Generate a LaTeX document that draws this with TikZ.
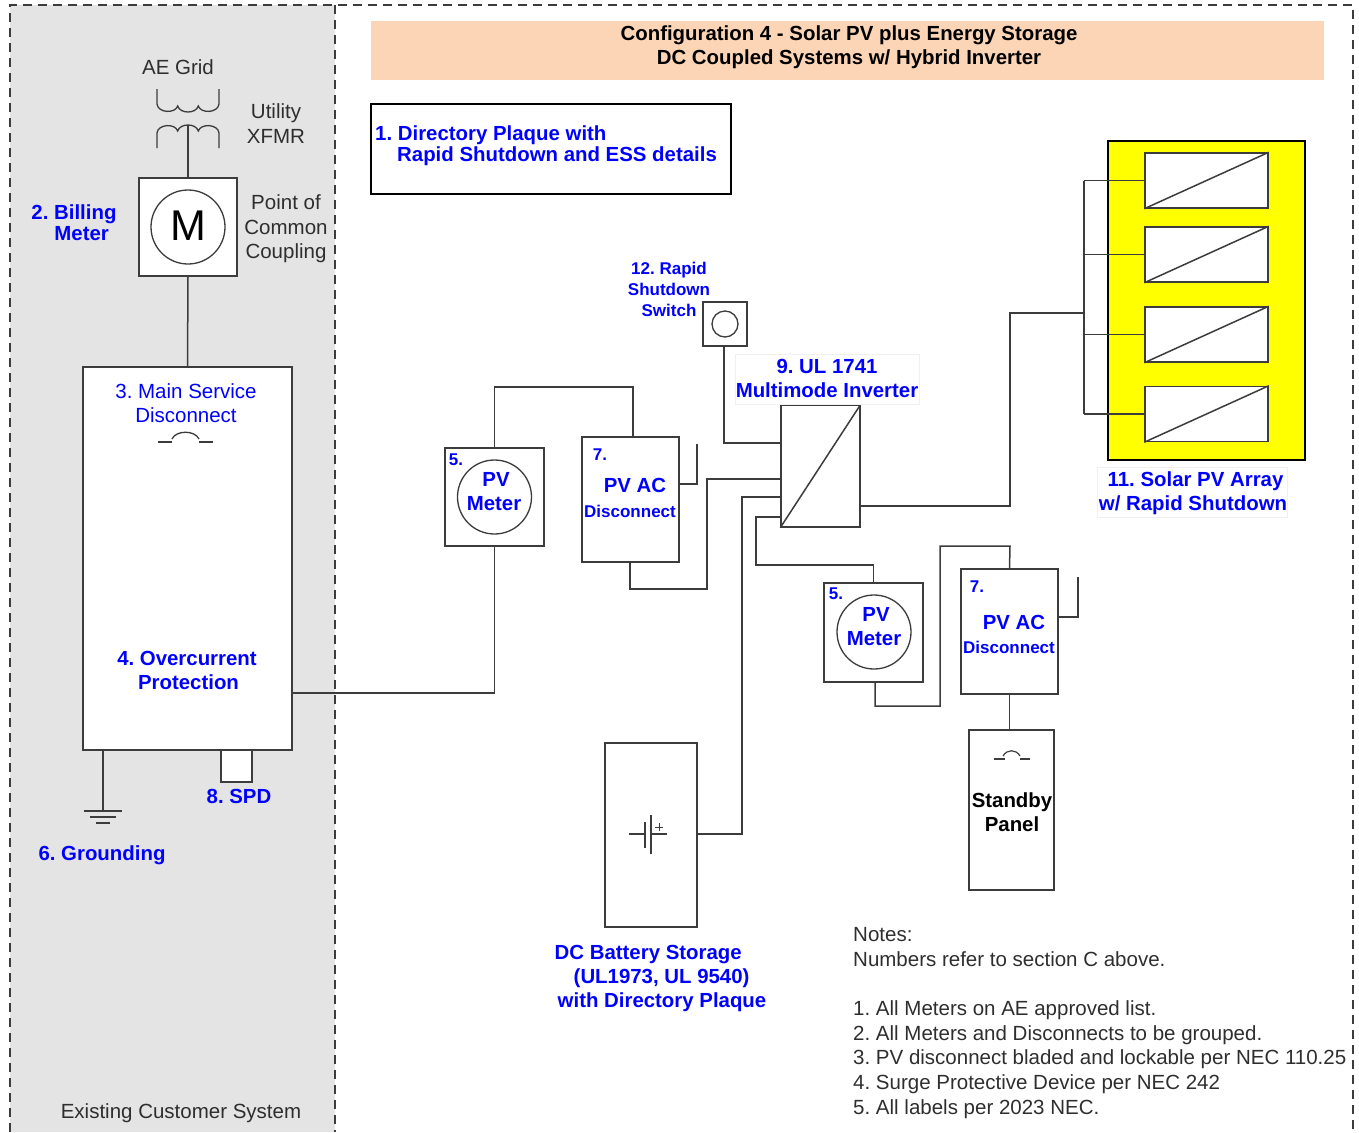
\documentclass[tikz,border=0pt]{standalone}
\usepackage{fontspec}
\setmainfont{Liberation Sans}
\frenchspacing
\definecolor{wirecol}{HTML}{3C3C3C}
\definecolor{panelgray}{HTML}{E4E4E4}
\definecolor{titlepeach}{HTML}{FBD5B5}
\definecolor{notecol}{HTML}{2E2E2E}
\definecolor{arrayyellow}{HTML}{FFFF00}
\definecolor{labelblue}{HTML}{0000FF}
\tikzset{
  wire/.style={draw=wirecol,line width=1.5pt},
  boxnode/.style={draw=wirecol,line width=1.5pt,fill=white,inner sep=0pt,shape=rectangle},
  roundmeter/.style={draw=wirecol,line width=1.3pt,fill=white,shape=circle,inner sep=0pt},
  border/.style={draw=wirecol,line width=1.4pt,dash pattern=on 9pt off 6pt},
  bluebold/.style={text=labelblue,font=\fontsize{20.4}{24}\selectfont\bfseries,align=center,inner sep=0pt},
  bluesmall/.style={text=labelblue,font=\fontsize{17}{21}\selectfont\bfseries,align=center,inner sep=0pt},
  plaintext/.style={text=notecol,font=\fontsize{20.5}{24.6}\selectfont,align=center,inner sep=0pt},
  labelback/.style={fill=white,draw=black!6,line width=0.6pt,inner sep=0pt},
}
\begin{document}
\begin{tikzpicture}[x=1pt,y=-1pt]
\useasboundingbox (0,0) rectangle (1359,1132);

% customer side and dashed frame
\fill[panelgray] (10,5) rectangle (335,1132);
\draw[border] (10,1132) -- (10,5) -- (1353,5) -- (1353,1132);
\draw[border] (335,5) -- (335,1132);

% title and plaque
\node[fill=titlepeach,inner sep=0pt,minimum width=953pt,minimum height=59pt] (titlebar) at (847.5,50.5) {};
\node[text=black,font=\fontsize{20.4}{24}\selectfont\bfseries,align=center,inner sep=0pt] (titletext) at (849,47.5) {Configuration 4 - Solar PV plus Energy Storage\\DC Coupled Systems w/ Hybrid Inverter};
\node[boxnode,draw=black,minimum width=360pt,minimum height=90pt] (plaquebox) at (551,149) {};
\node[bluebold,align=left,anchor=west,font=\fontsize{20.4}{21}\selectfont\bfseries] (plaquetext) at (375,146) {1. Directory Plaque with\\\hspace*{22pt}Rapid Shutdown and ESS details};

% grid side
\node[plaintext] (aegrid) at (178,67) {AE Grid};
\node[plaintext] (xfmrlabel) at (276,123.5) {Utility\\XFMR};
\draw[wire,line width=1.3pt] (157,89) -- (157,104)
  .. controls (158,113) and (175,114) .. (177.7,106)
  .. controls (180,114) and (196,114) .. (198.3,106)
  .. controls (201,114) and (218,113) .. (219,104) -- (219,89);
\draw[wire,line width=1.3pt] (157,148) -- (157,133)
  .. controls (158,124) and (175,123) .. (177.7,131)
  .. controls (180,123) and (196,123) .. (198.3,131)
  .. controls (201,123) and (218,124) .. (219,133) -- (219,148);
\coordinate (coilout) at (188,125);

\node[boxnode,minimum width=98pt,minimum height=98pt] (billmeter) at (188,227) {};
\node[roundmeter,minimum size=74pt,font=\fontsize{43}{43}\selectfont,text=black] (billdial) at (188,227) {\raisebox{3pt}{M}};
\node[bluebold,font=\fontsize{20.4}{21}\selectfont\bfseries,align=left] (billlabel) at (74,222.5) {2. Billing\\\hspace*{23pt}Meter};
\node[plaintext] (pcclabel) at (286,229) {Point of\\Common\\Coupling};
\draw[wire] (coilout) -- (billmeter.north);

\node[boxnode,minimum width=209pt,minimum height=383pt] (mainpanel) at (187.5,558.5) {};
\draw[wire] (billmeter.south) -- (mainpanel.north);
\node[text=labelblue,font=\fontsize{20.5}{24}\selectfont,align=center,inner sep=0pt] (msdlabel) at (186,403.5) {3. Main Service\\Disconnect};
\draw[wire,line width=1.3pt] (158,442) -- (172,442) (199,442) -- (213,442);
\draw[wire,line width=1.3pt] (172,439) .. controls (176,430) and (195,430) .. (199,439);
\node[bluebold] (ocplabel) at (187,670) {4. Overcurrent\\\hspace*{3pt}Protection};

% grounding and surge device
\node[boxnode,minimum width=31pt,minimum height=32pt] (spdbox) at (236.5,766) {};
\node[bluebold] (spdlabel) at (239,796) {8. SPD};
\coordinate (groundtop) at (103,811);
\draw[wire] (mainpanel.south -| groundtop) -- (groundtop);
\draw[wire] (84,811) -- (122,811);
\draw[wire] (90,817) -- (116,817);
\draw[wire] (96,823) -- (110,823);
\node[bluebold] (groundlabel) at (102,855) {6. Grounding};
\node[plaintext] (existlabel) at (181,1113) {Existing Customer System};

% first PV meter and disconnect
\node[boxnode,minimum width=99pt,minimum height=98pt] (pvmeterA) at (494.5,497) {};
\node[roundmeter,minimum size=74pt] (pvdialA) at (494.5,497) {};
\node[bluesmall] (pvnumA) at (456,459.5) {5.};
\node[bluebold] (pvtextA) at (494,491.5) {\hspace*{4pt}PV\\Meter};
\node[boxnode,minimum width=97pt,minimum height=125pt] (discA) at (630.5,499.5) {};
\node[bluesmall] (discnumA) at (600,454.5) {7.};
\node[bluebold] (disctextA) at (635,485) {PV AC};
\node[bluesmall] (discsubA) at (630,511.5) {Disconnect};
\coordinate (handleA) at (697,444);
\draw[wire] (mainpanel.east |- 0,693) -| (pvmeterA.south);
\draw[wire] (pvmeterA.north) |- (633,387) -- (discA.north -| 633,0);
\draw[wire] (discA.east |- 0,484) -| (handleA);

% inverter and rapid shutdown
\node[boxnode,minimum width=79pt,minimum height=122pt] (inverter) at (820.5,466) {};
\draw[wire] (inverter.south west) -- (inverter.north east);
\node[labelback,minimum width=184pt,minimum height=50pt] (invlabelbg) at (827,379) {};
\node[bluebold] (invlabel) at (827,378.5) {9. UL 1741\\Multimode Inverter};
\node[boxnode,minimum width=44pt,minimum height=44pt] (rsdbox) at (725,324) {};
\node[roundmeter,minimum size=26pt] (rsddial) at (725,324) {};
\node[bluesmall] (rsdlabel) at (669,289) {12. Rapid\\Shutdown\\Switch};
\draw[wire] (rsdbox.south -| 724,0) |- (inverter.west |- 0,443);
\draw[wire] (discA.south -| 630,0) |- (707,589) |- (inverter.west |- 0,479);

% battery
\node[boxnode,minimum width=92pt,minimum height=184pt] (battery) at (651,835) {};
\draw[wire] (inverter.west |- 0,497) -| (742,834) -- (battery.east |- 0,834);
\draw[wire,line width=1.2pt] (629,834) -- (645,834) (645,822) -- (645,848);
\draw[wire,line width=1.2pt] (651,815) -- (651,854) (651,834) -- (667,834);
\draw[wire,line width=1pt] (655,827) -- (663,827) (659,823) -- (659,831);
\node[bluebold,align=left] (batterylabel) at (660.5,978.5) {DC Battery Storage\\\hspace*{19pt}(UL1973, UL 9540)\\\hspace*{3pt}with Directory Plaque};

% second PV meter and disconnect
\node[boxnode,minimum width=99pt,minimum height=99pt] (pvmeterB) at (873.5,632.5) {};
\node[roundmeter,minimum size=74pt] (pvdialB) at (874,632) {};
\node[bluesmall] (pvnumB) at (836,594) {5.};
\node[bluebold] (pvtextB) at (874,626.5) {\hspace*{4pt}PV\\Meter};
\node[boxnode,minimum width=97pt,minimum height=125pt] (discB) at (1009.5,631.5) {};
\node[bluesmall] (discnumB) at (977,586.5) {7.};
\node[bluebold] (disctextB) at (1014,622.5) {PV AC};
\node[bluesmall] (discsubB) at (1009,647.5) {Disconnect};
\coordinate (handleB) at (1078,577);
\draw[wire] (inverter.west |- 0,517) -| (756,565) -| (pvmeterB.north);
\draw[wire] (pvmeterB.south -| 875,0) |- (940,706) |- (1010,546) -- (discB.north);
\draw[wire] (discB.east |- 0,617) -| (handleB);

% standby panel
\node[boxnode,minimum width=85pt,minimum height=160pt] (standby) at (1011.5,810) {};
\draw[wire,line width=1.2pt] (994,759) -- (1005,759) (1020,759) -- (1030,759);
\draw[wire,line width=1.2pt] (1003,756) .. controls (1007,749) and (1016,749) .. (1020,756);
\node[text=black,font=\fontsize{20.4}{24}\selectfont\bfseries,align=center,inner sep=0pt] (standbytext) at (1012,812) {Standby\\Panel};
\draw[wire] (discB.south) -- (standby.north -| discB.south);

% PV array
\node[boxnode,draw=black,fill=arrayyellow,minimum width=197pt,minimum height=319pt] (pvarray) at (1206.5,300.5) {};
\foreach \name/\ypos in {panelA/180.5,panelB/254.5,panelC/334.5,panelD/414}{
  \node[boxnode,minimum width=123pt,minimum height=55pt] (\name) at (1206.5,\ypos) {};
  \draw[wire] (\name.south west) -- (\name.north east);
  \draw[wire] (\name.west) -- (1084,\ypos);
}
\coordinate (arraybus) at (1084,313);
\draw[wire] (arraybus |- panelA.west) -- (arraybus |- panelD.west);
\draw[wire] (inverter.east |- 0,506) -| (1010,313) -- (arraybus);
\node[labelback,minimum width=190pt,minimum height=50pt] (arraybg) at (1192,492) {};
\node[bluebold] (arraylabel) at (1193,493) {\hspace*{5pt}11. Solar PV Array\\w/ Rapid Shutdown};

% notes
\node[plaintext,align=left,anchor=north west] (notes) at (853,927.5) {Notes:\\Numbers refer to section C above.\\[24.6pt]1. All Meters on AE approved list.\\2. All Meters and Disconnects to be grouped.\\3. PV disconnect bladed and lockable per NEC 110.25\\4. Surge Protective Device per NEC 242\\5. All labels per 2023 NEC.};

\end{tikzpicture}
\end{document}
